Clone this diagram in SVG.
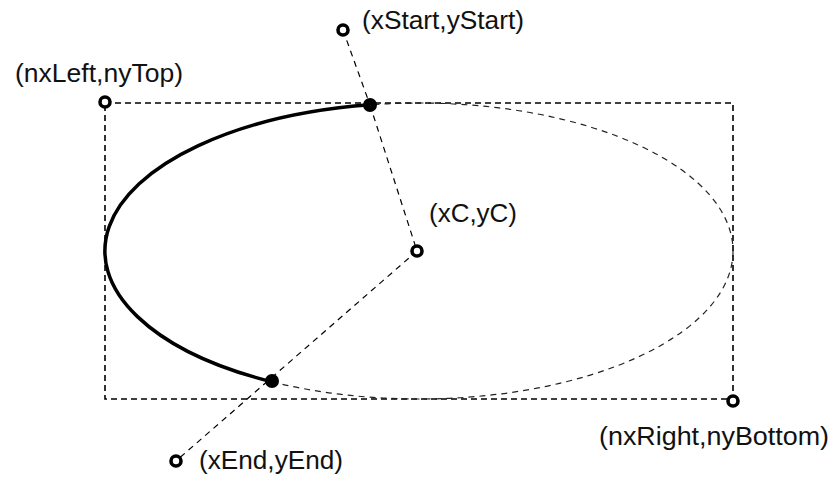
<svg xmlns="http://www.w3.org/2000/svg" width="831" height="480" viewBox="0 0 831 480">
<style>
.bg{fill:#fff}
.rect{fill:none;stroke:#000;stroke-width:1.6;stroke-dasharray:6 4}
.ell{fill:none;stroke:#222;stroke-width:1.2;stroke-dasharray:6 5}
.ray{fill:none;stroke:#000;stroke-width:1.2;stroke-dasharray:6 5}
.arc{fill:none;stroke:#000;stroke-width:3.5}
.pt{fill:#fff;stroke:#000;stroke-width:3.6}
.dot{fill:#000}
.lbl{font-family:"Liberation Sans",Arial,sans-serif;font-size:25px;fill:#111}
</style>
<rect class="bg" x="0" y="0" width="831" height="480"/>
<g id="connectors">
<rect class="rect" x="105" y="103" width="628" height="296"/>
<ellipse class="ell" cx="419" cy="251" rx="314" ry="148"/>
<line class="ray" x1="343" y1="30" x2="370" y2="105"/>
<line class="ray" x1="370" y1="105" x2="417" y2="251"/>
<line class="ray" x1="417" y1="251" x2="176" y2="461"/>
<path class="arc" d="M370,104.8 A314,148 0 0 0 272,381.8"/>
</g>
<g id="nLeftTop">
<circle class="pt" cx="105" cy="102" r="5"/>
<text class="lbl" x="15" y="82" textLength="168" lengthAdjust="spacingAndGlyphs">(nxLeft,nyTop)</text>
</g>
<g id="xyStart">
<circle class="pt" cx="343" cy="30" r="5"/>
<text class="lbl" x="362" y="29" textLength="162" lengthAdjust="spacingAndGlyphs">(xStart,yStart)</text>
</g>
<g id="startPoint">
<circle class="dot" cx="370" cy="105" r="7"/>
</g>
<g id="xyC">
<circle class="pt" cx="417" cy="251" r="5"/>
<text class="lbl" x="429" y="222" textLength="88" lengthAdjust="spacingAndGlyphs">(xC,yC)</text>
</g>
<g id="endPoint">
<circle class="dot" cx="272" cy="381" r="7"/>
</g>
<g id="xyEnd">
<circle class="pt" cx="176" cy="461" r="5"/>
<text class="lbl" x="199" y="469" textLength="144" lengthAdjust="spacingAndGlyphs">(xEnd,yEnd)</text>
</g>
<g id="nRightBottom">
<circle class="pt" cx="733" cy="401" r="5"/>
<text class="lbl" x="599" y="445" textLength="230" lengthAdjust="spacingAndGlyphs">(nxRight,nyBottom)</text>
</g>
</svg>
